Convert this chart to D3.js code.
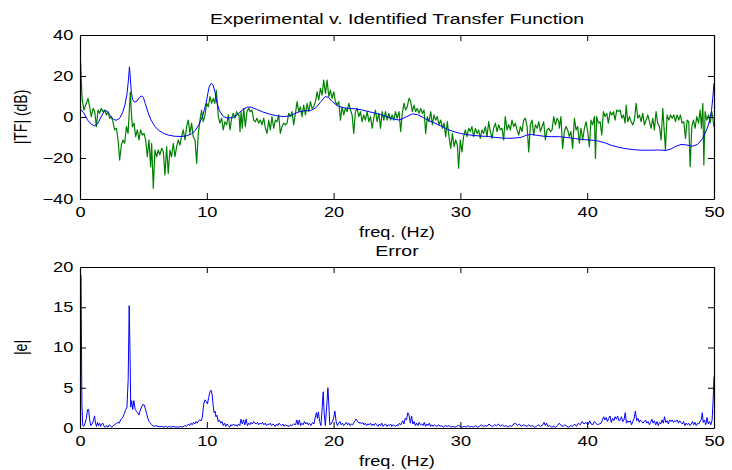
<!DOCTYPE html>
<html><head><meta charset="utf-8">
<script src="https://cdn.jsdelivr.net/npm/d3@7"></script>
<style>
body{margin:0;background:#fff}
svg{display:block}
text{font-family:"Liberation Sans",Arial,Helvetica,sans-serif;fill:#000}
</style>
</head><body>
<svg id="c" width="732" height="470"></svg>
<script>
// ---------- DATA ----------
const xTicks = [0, 10, 20, 30, 40, 50];
const tfTicks = [-40, -20, 0, 20, 40];
const errTicks = [0, 5, 10, 15, 20];
const topTitle = "Experimental v. Identified Transfer Function";
const bottomTitle = "Error";
const xLabel = "freq. (Hz)";
const tfLabel = "|TF| (dB)";
const errLabel = "|e|";

// experimental transfer function [freq Hz, dB] (green)
const experimental = [
[0,26],[0.05,26.2],[0.16,9.1],[0.31,3.4],[0.5,6.7],[0.63,9.1],[0.76,5],[0.89,0.2],[1.03,4.2],[1.16,2.6],[1.29,-4.7],[1.42,3.4],[1.55,1.8],[1.68,4.2],[1.81,2.6],[1.94,3.4],[2.08,1],[2.21,2.6],[2.34,-0.6],[2.47,0.2],[2.6,-2.3],[2.73,-6.3],[2.87,-5.5],[3.0,-11.2],[3.13,-21],[3.26,-13.7],[3.39,-11.2],[3.52,-12.8],[3.66,-4.7],[3.79,-8],[3.92,6.7],[3.97,12],[4.05,2.6],[4.13,-4.7],[4.26,-3],[4.39,-9.6],[4.52,-6.3],[4.65,-11.2],[4.78,-6.3],[4.92,-8.8],[5.05,-8],[5.18,-11.2],[5.31,-19.4],[5.44,-11.2],[5.57,-24.2],[5.65,-12.8],[5.78,-34.8],[5.91,-16.1],[6.04,-19.4],[6.17,-16.1],[6.3,-18.5],[6.44,-15.3],[6.57,-17],[6.7,-28.3],[6.83,-14.5],[6.96,-27.5],[7.09,-16.1],[7.22,-19.4],[7.36,-12.8],[7.49,-19.4],[7.62,-14.5],[7.75,-11.2],[7.88,-13.7],[8.01,-9.6],[8.14,-6.3],[8.28,-11.2],[8.41,-4.7],[8.54,-1.5],[8.67,-8],[8.8,-3],[8.93,-9.6],[9.07,-11.2],[9.2,-22.6],[9.33,-8],[9.46,-1.5],[9.59,3.4],[9.72,-2.3],[9.86,1],[9.99,6.7],[10.12,5],[10.25,9.9],[10.38,6.7],[10.51,9.1],[10.64,6.7],[10.75,13],[10.91,0.2],[11.04,-3],[11.17,-0.6],[11.3,-6.3],[11.43,-2.3],[11.57,-3.8],[11.7,1],[11.83,-6.3],[11.96,-0.6],[12.09,1.8],[12.22,-0.6],[12.35,2.6],[12.49,1],
[12.54,1],[12.62,-7.1],[12.7,2.6],[12.8,-5.5],[12.91,4.2],[13.04,-4.7],[13.17,2.6],[13.3,4.2],[13.43,2.6],[13.56,3.4],[13.7,-1.5],[13.83,-2.3],[13.96,-0.6],[14.09,-3],[14.22,-1.5],[14.35,-3.8],[14.49,-0.6],[14.62,-5.5],[14.75,-8],[14.88,-1.5],[15.01,-6.3],[15.14,0.2],[15.28,-5.5],[15.41,-1.5],[15.54,-2.3],[15.67,1],[15.8,-8],[15.93,-4.7],[16.07,-3],[16.2,-3.8],[16.33,-3],[16.46,1.8],[16.59,0.2],[16.72,2.6],[16.85,-3.8],[16.99,1.8],[17.12,7.5],[17.25,2.6],[17.38,5],[17.51,0.2],[17.64,5.8],[17.78,1],[17.91,6.7],[18.04,2.6],[18.17,7.5],[18.3,4.2],[18.43,5],[18.57,7.5],[18.7,12.3],[18.83,8.3],[18.96,14],[19.09,10.7],[19.22,18],[19.36,11.5],[19.49,18],[19.62,9.9],[19.75,13.1],[19.88,9.1],[20.01,12.3],[20.14,7.5],[20.28,5.8],[20.41,7.5],[20.54,-1.5],[20.67,5],[20.8,1],[20.93,4.2],[21.07,2.6],[21.2,6.7],[21.33,3.4],[21.46,1],[21.59,-8],[21.72,2.6],[21.86,4.2],[21.99,0.2],[22.12,2.6],[22.25,-2.3],[22.38,1],[22.51,-1.5],[22.65,2.6],[22.78,-2.3],[22.91,0.2],[23.04,-5.5],[23.17,-0.6],[23.3,3.4],[23.43,-2.3],[23.57,1.8],[23.7,-5.5],[23.83,2.6],[23.96,-1.5],[24.09,2.6],[24.22,-1.5],[24.35,1.8],[24.49,-1.5],[24.62,1],[24.75,-1.5],[24.88,2.6],[25.01,-0.6],
[25.16,2.6],[25.29,-7.1],[25.42,1.8],[25.55,6.7],[25.68,3.4],[25.81,5],[25.95,9.1],[26.08,7.5],[26.21,2.6],[26.34,5.8],[26.47,2.6],[26.6,4.2],[26.74,1.8],[26.87,4.2],[27.0,1.8],[27.13,3.4],[27.26,-8],[27.39,0.2],[27.52,-2.3],[27.66,2.6],[27.79,-3.8],[27.92,1],[28.05,-1.5],[28.18,0.2],[28.31,-3.8],[28.45,-1.5],[28.58,-5.5],[28.71,-3],[28.84,-9.6],[28.97,-2.3],[29.1,-9.6],[29.24,-15.3],[29.37,-8],[29.5,-14.5],[29.63,-11.2],[29.76,-13.7],[29.86,-25],[29.99,-11.2],[30.12,-17],[30.25,-9.6],[30.39,-6.3],[30.52,-9.6],[30.65,-5.5],[30.78,-7.1],[30.91,-4.7],[31.04,-9.6],[31.18,-5.5],[31.31,-8],[31.44,-6.3],[31.57,-10.4],[31.7,-6.3],[31.83,-8],[31.97,-4.7],[32.1,-9.6],[32.23,-2.3],[32.36,-7.1],[32.49,-10.4],[32.62,-5.5],[32.76,-3],[32.89,-7.1],[33.02,-3.8],[33.15,-6.3],[33.28,-5.5],[33.41,-11.2],[33.54,0.2],[33.68,-6.3],[33.81,-3.8],[33.94,-6.3],[34.07,-1.5],[34.2,-4.7],[34.33,-3],[34.47,-6.3],[34.6,-8.8],[34.73,-4.7],[34.86,-7.1],[34.99,-1.5],[35.12,-0.6],[35.26,-4.7],[35.39,-17],[35.52,-3.8],[35.65,-1.5],[35.78,-8.8],[35.91,-3.8],[36.05,-5.5],[36.18,-2.3],[36.31,-7.1],[36.44,-4.7],[36.57,-2.3],[36.7,-11.2],[36.84,-6.3],[36.97,-5.5],[37.1,-7.1],[37.23,-6.3],[37.36,0.2],[37.49,-3.8],[37.63,-0.6],
[37.76,-2.3],[37.8,-5.5],[37.93,0.2],[38.06,-15.3],[38.2,-7.1],[38.33,-4.7],[38.46,-6.3],[38.59,-9.6],[38.72,-7.1],[38.85,-15.3],[38.99,-0.6],[39.12,-6.3],[39.25,-4.7],[39.38,-12.8],[39.51,-5.5],[39.64,-11.2],[39.78,-5.5],[39.91,-2.3],[40.04,-7.1],[40.17,-14.5],[40.3,-1.5],[40.43,-3.8],[40.57,0.2],[40.65,-20.2],[40.75,0.2],[40.88,-3],[41.02,-2.3],[41.15,-8.8],[41.28,2.6],[41.41,0.2],[41.54,1.8],[41.67,-3],[41.81,2.6],[41.94,1],[42.07,2.6],[42.2,-1.5],[42.33,3.4],[42.46,2.6],[42.6,3.4],[42.73,-0.6],[42.86,1],[42.99,-3],[43.07,5.8],[43.2,-2.3],[43.33,0.2],[43.46,-2.3],[43.59,-3.8],[43.72,-1.5],[43.86,6.7],[43.99,-0.6],[44.12,1],[44.25,-2.3],[44.38,1.8],[44.51,-3.8],[44.65,-1.5],[44.78,1],[44.91,-2.3],[45.04,-5.5],[45.17,-0.6],[45.3,-6.3],[45.43,2.6],[45.56,-3],[45.7,-4.7],[45.83,-11.2],[45.96,4.2],[46.09,-8],[46.17,-16.1],[46.3,1],[46.43,-1.5],[46.57,1],[46.7,-0.6],[46.83,1],[46.96,-2.3],[47.09,1],[47.22,-1.5],[47.35,1],[47.48,-3],[47.62,-2.3],[47.75,-10.4],[47.88,-1.5],[48.01,-2.3],[48.12,-24.2],[48.25,-4.7],[48.38,-1.5],[48.51,-5.5],[48.64,0.2],[48.78,-3],[48.91,3.4],[49.01,-5.5],[49.12,6.7],[49.2,-23.4],[49.3,2.6],[49.43,-1.5],[49.57,1],[49.7,-3],[49.83,2.6],[49.91,-0.6],[50,-5]
];

// identified model [freq Hz, dB] (blue)
const identified = [
[0,4],[0.3,2],[0.6,-1.5],[0.9,-3.6],[1.15,-4.3],[1.4,-3.2],[1.7,0.5],[1.95,3.2],[2.15,2.8],[2.4,0.5],[2.65,-1.2],[2.85,-1.6],[3.1,-0.8],[3.35,2],[3.55,6],[3.7,11],[3.82,18],[3.9,24.5],[3.97,19],[4.05,12],[4.15,8.5],[4.3,7.2],[4.5,7.8],[4.7,9.6],[4.88,10.3],[5.0,9.5],[5.15,6.5],[5.35,2.5],[5.6,-1.5],[5.9,-4.5],[6.2,-6.5],[6.6,-8],[7.0,-8.9],[7.5,-9.4],[8.0,-9.5],[8.4,-9.2],[8.8,-8.2],[9.1,-6.5],[9.4,-3.5],[9.7,1],[9.95,7],[10.1,12],[10.2,15],[10.35,16.4],[10.5,15.5],[10.65,12],[10.8,7],[11.0,3],[11.3,0.3],[11.6,-0.5],[12.0,-0.4],[12.4,1],[12.8,3.5],[13.2,4.8],[13.5,4.8],[13.9,3.8],[14.4,2.5],[15.0,1.3],[15.6,0.5],[16.1,0.2],[16.6,0.6],[17.2,2.4],[17.7,3],[18.2,3.2],[18.6,4.5],[19.0,7.5],[19.35,10],[19.6,9.5],[19.9,7.5],[20.3,5.5],[20.7,4.6],[21.2,4.2],[21.7,4],[22.2,3.5],[22.7,2.7],[23.2,2],[23.7,1.2],[24.2,0.2],[24.7,-1],[25.2,-1.5],[25.7,0],[26.2,1.5],[26.6,1.2],[27.0,0],[27.5,-1.8],[28.0,-3],[28.5,-4.5],[29.0,-6],[29.5,-7.2],[30.0,-8],[30.5,-8.6],[31.0,-9],[31.6,-9.3],[32.2,-9.5],[32.8,-10],[33.4,-10.3],[33.9,-10.4],[34.4,-10.2],[34.8,-9.9],[35.2,-8.9],[35.6,-8.5],[36.1,-9],[36.6,-9.4],[37.2,-9.6],[37.8,-9.6],[38.4,-10],[39.0,-10.5],[39.6,-11],[40.2,-11.2],[40.8,-11.6],[41.4,-12.6],[41.9,-13.8],[42.5,-14.8],[43.0,-15.4],[43.6,-15.9],[44.3,-16.2],[45.0,-16.2],[45.6,-16.1],[46.2,-16.3],[46.6,-15.6],[47.0,-14.3],[47.4,-13.4],[47.8,-13.6],[48.3,-14.2],[48.7,-13.4],[49.1,-10.5],[49.4,-6.5],[49.6,-3],[49.8,3],[49.9,9],[50,16.5]
];

// error magnitude [freq Hz, |e|] (blue, bottom)
const errorMag = [
[0,19],[0.08,19],[0.15,3],[0.22,0.3],[0.3,0.2],[0.4,0.6],[0.5,1.2],[0.6,2.3],[0.68,2.3],[0.76,1.0],[0.85,0.3],[0.95,0.5],[1.05,0.9],[1.15,1.5],[1.22,0.6],[1.3,0.2],[1.38,0.7],[1.45,0.3],[1.55,0.6],[1.62,0.2],[1.7,0.5],[1.8,0.6],[1.9,0.2],[2.0,0.1],[2.1,0.3],[2.2,0.1],[2.3,0.4],[2.4,0.3],[2.5,0.1],[2.6,0.2],[2.7,0.4],[2.8,0.5],[2.9,0.6],[3.0,0.7],[3.1,0.6],[3.2,1.0],[3.3,1.2],[3.4,1.4],[3.5,1.8],[3.6,2.3],[3.7,2.5],[3.8,6],[3.88,15.2],[3.95,9],[4.0,2.6],[4.08,3.4],[4.15,2.3],[4.25,3.4],[4.35,2.3],[4.45,2.1],[4.55,1.9],[4.65,1.6],[4.75,2.2],[4.85,2.6],[4.95,2.9],[5.05,2.9],[5.15,2.4],[5.25,1.8],[5.35,1.2],[5.45,0.8],[5.55,0.6],[5.65,0.4],[5.75,0.3],[5.9,0.2],[6.0,0.3],[6.15,0.2],[6.3,0.15],[6.45,0.2],[6.6,0.1],[6.75,0.2],[6.9,0.1],[7.05,0.2],[7.2,0.1],[7.35,0.2],[7.5,0.1],[7.65,0.15],[7.8,0.1],[7.95,0.2],[8.1,0.1],[8.25,0.3],[8.4,0.2],[8.55,0.5],[8.65,0.3],[8.75,0.6],[8.85,0.4],[8.95,0.7],[9.05,0.5],[9.15,0.8],[9.25,0.6],[9.35,0.9],[9.45,1.0],[9.55,0.9],[9.65,1.3],[9.75,2.9],[9.85,3.5],[9.95,3.3],[10.05,3.0],[10.15,3.8],[10.25,4.5],[10.33,4.7],[10.42,4.2],[10.5,2.8],[10.58,1.9],[10.65,2.1],[10.72,1.4],[10.8,1.6],[10.9,0.8],[11.0,1.0],[11.1,0.6],[11.2,0.8],[11.3,0.3],[11.4,0.6],[11.5,0.2],[11.6,0.5],[11.7,0.3],[11.8,0.1],[11.9,0.4],[12.0,0.3],[12.1,0.5],[12.2,0.3],[12.3,0.4],[12.4,0.2],[12.5,0.5],[12.6,0.3],[12.7,1.1],[12.8,0.5],[12.9,1.0],[13.0,0.4],[13.1,1.1],[13.2,0.3],[13.3,0.6],[13.4,0.4],[13.5,0.7],[13.6,0.5],[13.7,0.8],[13.8,0.6],[13.9,0.5],[14.0,0.7],[14.1,0.4],[14.2,0.6],[14.3,0.5],[14.4,0.7],[14.5,0.4],[14.6,0.6],[14.7,0.3],[14.8,0.5],[14.9,0.4],[15.0,0.6],[15.1,0.3],[15.2,0.5],[15.3,0.4],[15.4,0.2],[15.5,0.5],[15.6,0.3],[15.7,0.6],[15.8,0.4],[15.9,0.3],[16.0,0.5],[16.1,0.2],[16.2,0.4],[16.3,0.3],[16.5,0.2],[16.6,0.4],[16.7,0.3],[16.85,0.5],[17.0,0.4],[17.1,1.0],[17.2,0.4],[17.3,1.0],[17.4,0.3],[17.5,0.6],[17.6,0.4],[17.7,0.8],[17.8,0.5],[17.9,0.7],[18.0,0.4],[18.1,0.6],[18.2,0.3],[18.35,0.7],[18.45,0.5],[18.55,1.3],[18.65,1.9],[18.72,1.2],[18.8,2.0],[18.9,0.8],[19.0,0.3],[19.1,2.5],[19.18,4.5],[19.25,2.0],[19.35,0.3],[19.45,2.5],[19.55,5.0],[19.62,3.0],[19.7,0.4],[19.8,0.5],[19.9,0.8],[20.0,1.2],[20.1,2.1],[20.2,0.8],[20.3,0.3],[20.4,0.6],[20.5,0.8],[20.6,0.4],[20.7,0.6],[20.8,0.3],[20.9,0.5],[21.0,0.7],[21.1,0.4],[21.2,0.6],[21.3,0.3],[21.4,0.5],[21.5,0.4],[21.6,0.7],[21.7,0.9],[21.78,1.1],[21.9,0.8],[22.0,0.6],[22.1,0.7],[22.2,0.5],[22.3,0.7],[22.4,0.4],[22.5,0.6],[22.6,0.3],[22.7,0.5],[22.8,0.4],[22.9,0.6],[23.0,0.3],[23.1,0.5],[23.2,0.3],[23.3,0.6],[23.4,0.4],[23.5,0.2],[23.6,0.5],[23.7,0.3],[23.8,0.6],[23.9,0.2],[24.0,0.4],[24.1,0.5],[24.2,0.2],[24.3,0.4],[24.4,0.3],[24.5,0.5],[24.6,0.2],[24.7,0.4],[24.8,0.3],[24.9,0.2],[25.0,0.4],[25.1,0.3],[25.2,0.6],[25.3,0.4],[25.45,0.9],[25.55,0.5],[25.65,1.2],[25.75,1.0],[25.85,1.9],[25.95,1.6],[26.05,0.6],[26.15,1.5],[26.25,0.5],[26.35,0.8],[26.45,0.3],[26.55,0.6],[26.65,0.3],[26.75,0.7],[26.85,0.4],[26.95,0.5],[27.05,0.3],[27.15,0.7],[27.25,0.2],[27.35,0.5],[27.45,0.3],[27.55,0.6],[27.65,0.2],[27.75,0.4],[27.85,0.2],[27.95,0.4],[28.05,0.3],[28.15,0.2],[28.3,0.4],[28.4,0.2],[28.5,0.3],[28.65,0.1],[28.8,0.3],[28.95,0.2],[29.1,0.3],[29.25,0.1],[29.4,0.2],[29.55,0.1],[29.7,0.2],[29.85,0.3],[30.0,0.2],[30.15,0.1],[30.3,0.2],[30.45,0.1],[30.6,0.3],[30.75,0.1],[30.9,0.2],[31.05,0.1],[31.2,0.3],[31.35,0.1],[31.5,0.2],[31.65,0.4],[31.8,0.2],[31.95,0.3],[32.1,0.2],[32.25,0.5],[32.4,0.3],[32.55,0.2],[32.7,0.4],[32.85,0.3],[33.0,0.5],[33.15,0.2],[33.3,0.4],[33.45,0.2],[33.6,0.3],[33.75,0.1],[33.9,0.3],[34.05,0.2],[34.2,0.5],[34.35,0.6],[34.5,0.3],[34.65,0.5],[34.8,0.2],[34.95,0.4],[35.1,0.3],[35.25,0.2],[35.4,0.4],[35.55,0.2],[35.7,0.3],[35.85,0.1],[36.0,0.2],[36.15,0.4],[36.3,0.2],[36.45,0.3],[36.6,0.7],[36.7,0.3],[36.8,0.6],[36.9,0.2],[37.05,0.3],[37.2,0.1],[37.35,0.2],[37.5,0.1],[37.65,0.3],[37.8,0.6],[37.95,0.3],[38.1,0.2],[38.25,0.4],[38.4,0.2],[38.55,0.1],[38.7,0.3],[38.85,0.2],[39.0,0.5],[39.15,0.2],[39.3,0.6],[39.45,0.4],[39.6,0.8],[39.75,0.5],[39.9,0.7],[40.05,0.4],[40.2,0.9],[40.3,0.5],[40.45,0.4],[40.55,0.8],[40.7,0.6],[40.8,0.4],[40.95,0.5],[41.1,0.6],[41.2,1.0],[41.3,1.4],[41.4,1.0],[41.5,1.3],[41.6,0.8],[41.7,1.2],[41.8,1.5],[41.9,0.7],[42.0,1.2],[42.1,0.9],[42.2,1.4],[42.3,1.1],[42.4,1.5],[42.5,0.9],[42.6,1.0],[42.7,1.4],[42.8,0.8],[42.9,1.0],[43.0,1.9],[43.1,0.6],[43.2,0.9],[43.3,0.7],[43.4,0.9],[43.5,0.4],[43.6,0.8],[43.7,1.2],[43.8,2.1],[43.9,0.9],[44.0,1.2],[44.1,0.7],[44.2,1.0],[44.3,0.8],[44.4,0.6],[44.5,0.8],[44.6,1.0],[44.7,0.6],[44.8,0.8],[44.9,0.4],[45.0,0.7],[45.1,1.1],[45.2,0.6],[45.3,0.9],[45.4,0.4],[45.5,0.8],[45.6,0.3],[45.7,0.7],[45.8,0.5],[45.9,1.0],[46.0,0.6],[46.1,1.4],[46.2,0.7],[46.3,0.9],[46.4,0.5],[46.5,1.0],[46.6,0.8],[46.7,1.0],[46.8,0.7],[46.9,0.9],[47.0,0.8],[47.1,1.0],[47.2,0.6],[47.3,0.9],[47.4,0.7],[47.5,0.5],[47.6,0.8],[47.7,0.3],[47.8,0.6],[47.9,0.4],[48.0,0.6],[48.1,0.3],[48.2,0.5],[48.3,0.8],[48.4,0.4],[48.5,0.7],[48.6,0.3],[48.7,0.6],[48.8,0.5],[48.9,0.8],[49.0,1.1],[49.08,1.9],[49.15,0.7],[49.25,1.0],[49.35,0.4],[49.45,1.3],[49.55,0.5],[49.65,0.8],[49.75,0.4],[49.85,1.0],[49.92,3],[50,6.4]
];

// ---------- DRAWING ----------
const W = 732, H = 470;
const FS = 14, SX = 1.3;   // font size and horizontal stretch of the original figure
const svg = d3.select("#c");
svg.append("rect").attr("width", W).attr("height", H).attr("fill", "#fff");

const x0 = 80, x1 = 714;

function stretchText(sel) {
  sel.selectAll("text").attr("font-size", FS)
     .attr("font-family", '"Liberation Sans", Arial, Helvetica, sans-serif')
     .attr("transform", "scale(" + SX + ",1)");
}

function label(g, x, y, s, rotate, fs) {
  const t = g.append("text")
    .attr("text-anchor", "middle")
    .attr("font-size", fs || FS)
    .text(s);
  if (rotate) t.attr("transform", `translate(${x},${y}) rotate(-90) scale(1,${SX})`);
  else t.attr("transform", `translate(${x},${y}) scale(${SX},1)`);
}

function panel(yTop, yBot, yDomain, yTicks, series, title, ylab, clipId) {
  const g = svg.append("g");
  const x = d3.scaleLinear().domain([0, 50]).range([x0, x1]);
  const y = d3.scaleLinear().domain(yDomain).range([yBot, yTop]);

  g.append("defs").append("clipPath").attr("id", clipId)
    .append("rect").attr("x", x0).attr("y", yTop).attr("width", x1 - x0).attr("height", yBot - yTop);

  const line = d3.line().x(d => x(d[0])).y(d => y(d[1]));
  const plot = g.append("g").attr("clip-path", `url(#${clipId})`);
  series.forEach(s => {
    plot.append("path").datum(s.data).attr("fill", "none")
      .attr("stroke", s.color).attr("stroke-width", s.width)
      .attr("stroke-linejoin", "round").attr("d", line);
  });

  const tick = 6;
  const ax = [
    g.append("g").attr("transform", `translate(0,${yBot})`)
      .call(d3.axisBottom(x).tickValues(xTicks).tickSizeInner(-tick).tickSizeOuter(0).tickPadding(8).tickFormat(d3.format("d"))),
    g.append("g").attr("transform", `translate(0,${yTop})`)
      .call(d3.axisTop(x).tickValues(xTicks).tickSizeInner(-tick).tickSizeOuter(0).tickFormat("")),
    g.append("g").attr("transform", `translate(${x0},0)`)
      .call(d3.axisLeft(y).tickValues(yTicks).tickSizeInner(-tick).tickSizeOuter(0).tickPadding(5.2).tickFormat(d => d < 0 ? "\u2212" + Math.abs(d) : d)),
    g.append("g").attr("transform", `translate(${x1},0)`)
      .call(d3.axisRight(y).tickValues(yTicks).tickSizeInner(-tick).tickSizeOuter(0).tickFormat(""))
  ];
  ax.forEach(a => {
    a.select(".domain").attr("stroke", "#000").attr("stroke-width", 1.2);
    a.selectAll(".tick line").attr("stroke", "#000").attr("stroke-width", 1);
  });
  stretchText(ax[0]); stretchText(ax[2]);
  ax[0].selectAll("text").attr("fill", "#000");
  ax[2].selectAll("text").attr("fill", "#000");

  label(g, (x0 + x1) / 2, yTop - 11, title, false, 15);
  label(g, (x0 + x1) / 2, yBot + 38, xLabel, false);
  label(g, 27, (yTop + yBot) / 2, ylab, true);
}

panel(35, 199, [-40, 40], tfTicks,
  [{data: experimental, color: "#008000", width: 1.2},
   {data: identified, color: "#0000ff", width: 1}],
  topTitle, tfLabel, "clipTop");

panel(267, 428, [0, 20], errTicks,
  [{data: errorMag, color: "#0000ff", width: 1}],
  bottomTitle, errLabel, "clipBot");
</script>
</body></html>
